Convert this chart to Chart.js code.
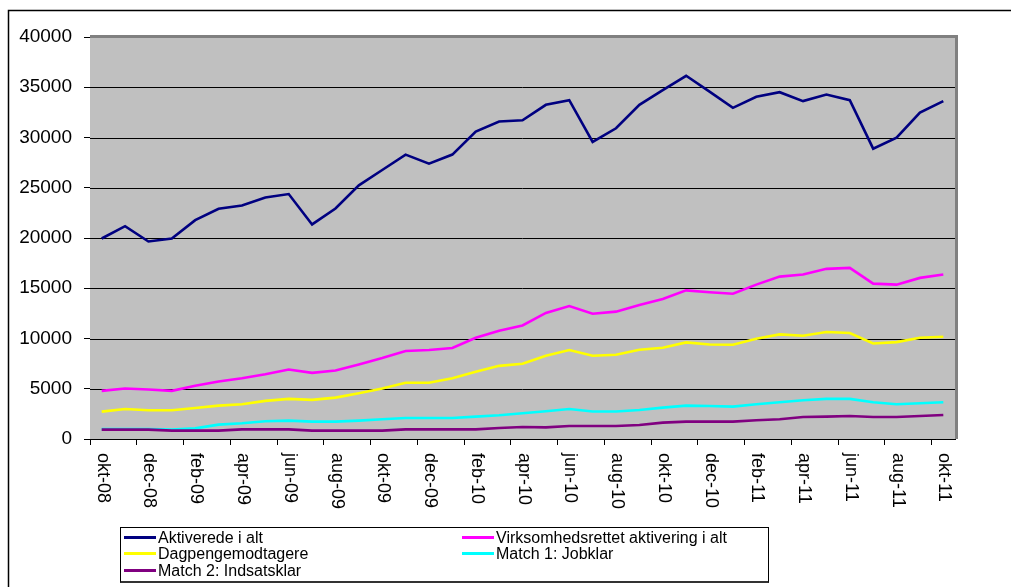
<!DOCTYPE html>
<html>
<head>
<meta charset="utf-8">
<script src="https://cdn.jsdelivr.net/npm/chart.js@4"></script>
<style>
  html, body { margin: 0; padding: 0; background: #fff; }
  #wrap { position: relative; width: 1011px; height: 587px; overflow: hidden; }
  canvas { position: absolute; left: 0; top: 0; }
  #legend {
    position: absolute; left: 120px; top: 527px; width: 649px; height: 56px;
    border: 1px solid #000; border-bottom: 2px solid #333; box-sizing: border-box;
    font-family: "Liberation Sans", Arial, sans-serif; font-size: 16px; color: #000;
  }
  .item { position: absolute; height: 16px; line-height: 16px; white-space: nowrap; }
  .item .mk { display: inline-block; width: 32px; height: 3px; vertical-align: middle; margin-right: 2px; position: relative; top: -1px; }
</style>
</head>
<body>
<div id="wrap">
  <canvas id="c" width="1011" height="587"></canvas>
  <div id="legend"></div>
</div>
<script>
const months = ["okt-08","nov-08","dec-08","jan-09","feb-09","mar-09","apr-09","maj-09","jun-09","jul-09","aug-09","sep-09",
  "okt-09","nov-09","dec-09","jan-10","feb-10","mar-10","apr-10","maj-10","jun-10","jul-10","aug-10","sep-10",
  "okt-10","nov-10","dec-10","jan-11","feb-11","mar-11","apr-11","maj-11","jun-11","jul-11","aug-11","sep-11","okt-11"];

const aktiverede = [19950,21180,19650,19950,21780,22910,23240,24040,24370,21350,22940,25240,
  26770,28300,27400,28300,30590,31590,31720,33250,33720,29560,30920,33250,
  34710,36140,34570,32950,34050,34510,33620,34280,33720,28890,29990,32480,33620];

const virksomhed = [4790,5020,4920,4790,5290,5720,6050,6450,6920,6580,6820,7420,
  8050,8750,8850,9050,10070,10770,11300,12540,13230,12470,12670,13330,
  13930,14790,14600,14460,15360,16160,16360,16930,17030,15460,15360,16030,16360];

const dagpenge = [2720,2990,2860,2860,3090,3320,3460,3790,3990,3890,4120,4560,
  5020,5590,5590,6050,6680,7280,7480,8280,8850,8280,8380,8880,
  9080,9610,9410,9380,9980,10410,10270,10640,10540,9510,9640,10070,10170];

const match1 = [980,1000,1000,950,1060,1430,1560,1760,1830,1730,1730,1830,
  1960,2090,2090,2090,2230,2360,2560,2760,2990,2730,2730,2890,
  3120,3320,3290,3220,3460,3660,3860,3990,3990,3660,3460,3560,3660];

const match2 = [930,930,930,830,830,830,960,960,960,830,830,830,
  830,960,960,960,960,1100,1200,1160,1300,1300,1300,1400,
  1630,1730,1730,1730,1860,1960,2190,2230,2290,2190,2190,2290,2390];

const seriesNames = ["Aktiverede i alt","Virksomhedsrettet aktivering i alt","Dagpengemodtagere","Match 1: Jobklar","Match 2: Indsatsklar"];
const seriesColors = ["#000080","#FF00FF","#FFFF00","#00FFFF","#800080"];
const seriesData = [aktiverede, virksomhed, dagpenge, match1, match2];
const yTicks = [0,5000,10000,15000,20000,25000,30000,35000,40000];

const FONT = '"Liberation Sans", Arial, sans-serif';

const decor = {
  id: 'decor',
  beforeDatasetsDraw(chart) {
    const a = chart.chartArea, ctx = chart.ctx;
    ctx.save();
    ctx.fillStyle = '#C0C0C0';
    ctx.fillRect(a.left, a.top, a.right - a.left, a.bottom - a.top);
    // redraw horizontal gridlines over fill
    const ys = chart.scales.y;
    ctx.strokeStyle = '#000';
    ctx.lineWidth = 1;
    yTicks.forEach(v => {
      if (v === 0 || v === 40000) return;
      const py = Math.round(ys.getPixelForValue(v)) + 0.5;
      ctx.beginPath(); ctx.moveTo(a.left, py); ctx.lineTo(a.right, py); ctx.stroke();
    });
    ctx.restore();
  },
  afterDraw(chart) {
    const a = chart.chartArea, ctx = chart.ctx;
    ctx.save();
    // plot-area gray border top & right
    ctx.strokeStyle = '#808080';
    ctx.lineWidth = 3;
    ctx.beginPath();
    ctx.moveTo(a.left, a.top - 0.5);
    ctx.lineTo(a.right + 1.5, a.top - 0.5);
    ctx.lineTo(a.right + 1.5, a.bottom);
    ctx.stroke();
    // outer frame
    ctx.strokeStyle = '#000';
    ctx.lineWidth = 1.5;
    ctx.beginPath();
    ctx.moveTo(8.5, 587); ctx.lineTo(8.5, 10.5); ctx.lineTo(1011, 10.5);
    ctx.stroke();
    // x labels rotated clockwise
    const xs = chart.scales.x;
    ctx.fillStyle = '#000';
    ctx.font = '18px ' + FONT;
    ctx.textAlign = 'left';
    ctx.textBaseline = 'middle';
    months.forEach((m, i) => {
      if (i % 2 !== 0) return;
      const px = xs.getPixelForTick(i);
      ctx.save();
      ctx.translate(px + 1, a.bottom + 14);
      ctx.rotate(Math.PI / 2);
      ctx.fillText(m, 0, 0);
      ctx.restore();
    });
    ctx.restore();
  }
};

new Chart(document.getElementById('c'), {
  type: 'line',
  data: {
    labels: months,
    datasets: seriesData.map((d, i) => ({
      label: seriesNames[i],
      data: d,
      borderColor: seriesColors[i],
      backgroundColor: seriesColors[i],
      borderWidth: 2.6,
      pointRadius: 0,
      tension: 0,
      fill: false
    })).reverse()
  },
  options: {
    responsive: false,
    animation: false,
    devicePixelRatio: 1,
    layout: { padding: { left: 0, top: 37, right: 56, bottom: 0 } },
    plugins: { legend: { display: false }, tooltip: { enabled: false } },
    scales: {
      x: {
        type: 'category',
        offset: true,
        afterFit(s) { s.height = 148; },
        grid: {
          offset: true,
          drawOnChartArea: false,
          drawTicks: true,
          tickLength: 6,
          tickColor: ctx => (ctx.index % 2 === 0 ? '#000' : 'rgba(0,0,0,0)'),
          tickWidth: 1
        },
        border: { display: true, color: '#000', width: 1 },
        ticks: { display: false, autoSkip: false }
      },
      y: {
        min: 0, max: 40000,
        afterFit(s) { s.width = 90; },
        afterBuildTicks(s) { s.ticks = yTicks.map(v => ({ value: v })); },
        grid: {
          color: '#000',
          lineWidth: 1,
          drawTicks: true,
          tickLength: 6,
          tickColor: '#000'
        },
        border: { display: true, color: '#000', width: 1 },
        ticks: {
          color: '#000',
          font: { family: FONT, size: 19 },
          padding: 12,
          callback: v => String(v)
        }
      }
    }
  },
  plugins: [decor]
});

// HTML legend
const legend = document.getElementById('legend');
const pos = [
  { left: 3, top: 2 }, { left: 341, top: 2 },
  { left: 3, top: 18 }, { left: 341, top: 18 },
  { left: 3, top: 35 }
];
seriesNames.forEach((n, i) => {
  const el = document.createElement('div');
  el.className = 'item';
  el.style.left = pos[i].left + 'px';
  el.style.top = pos[i].top + 'px';
  const mk = document.createElement('span');
  mk.className = 'mk';
  mk.style.background = seriesColors[i];
  el.appendChild(mk);
  el.appendChild(document.createTextNode(n));
  legend.appendChild(el);
});
</script>
</body>
</html>
